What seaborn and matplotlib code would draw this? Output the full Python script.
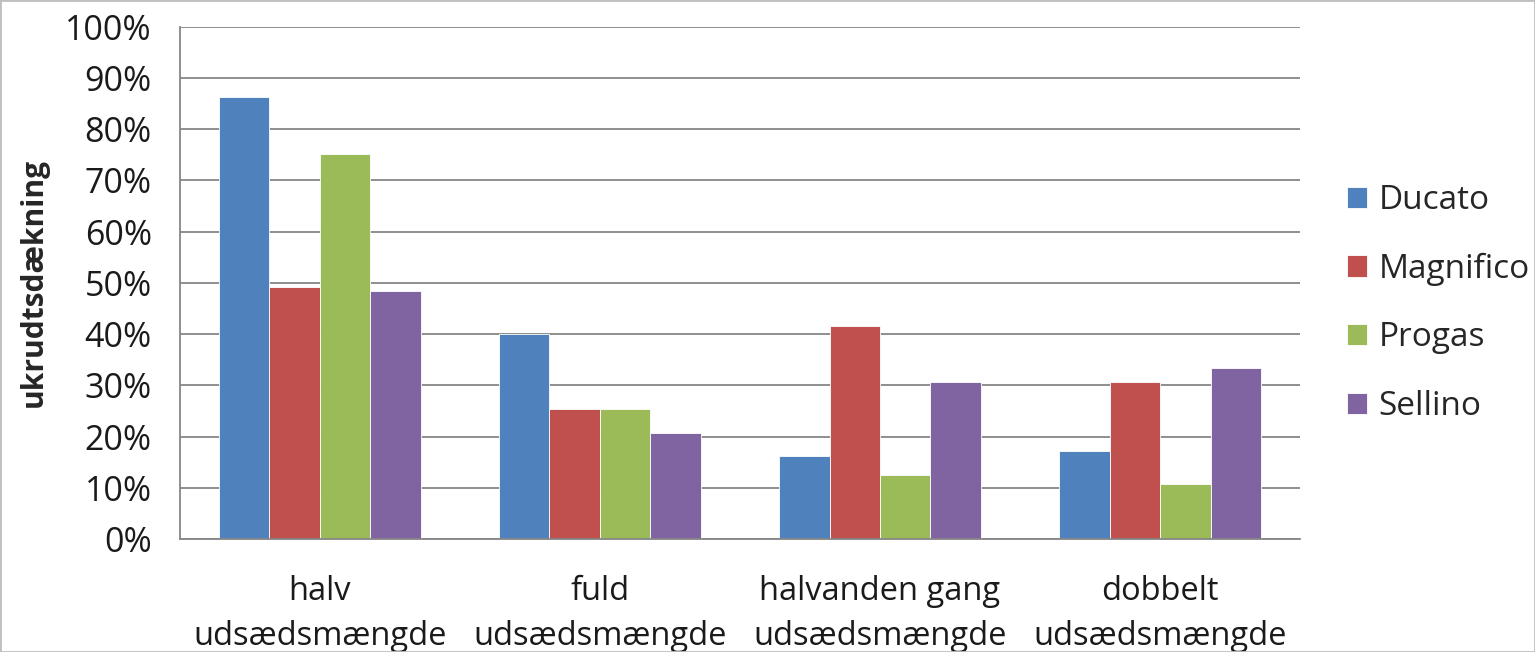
#Grafik over ukrudtsdaekning for fire sorter ved forskellige udsaedsmaengder
import pandas as pd
import matplotlib.pyplot as plt
import seaborn as sns
import numpy as np
from matplotlib.ticker import PercentFormatter, FixedLocator

kategorier = ["halv\nudsædsmængde", "fuld\nudsædsmængde",
              "halvanden gang\nudsædsmængde", "dobbelt\nudsædsmængde"]
sorter = ["Ducato", "Magnifico", "Progas", "Sellino"]
ducato = [86.3, 40.0, 16.2, 17.2]
magnifico = [49.2, 25.4, 41.6, 30.7]
progas = [75.1, 25.4, 12.5, 10.7]
sellino = [48.4, 20.7, 30.7, 33.4]
farver = ["#4F81BD", "#C0504D", "#9BBB59", "#8064A2"]

rows = []
for sort, vals in zip(sorter, [ducato, magnifico, progas, sellino]):
    for kat, v in zip(kategorier, vals):
        rows.append({"kategori": kat, "sort": sort, "andel": v})
data = pd.DataFrame(rows)

sns.set_style("white")
plt.rcParams["font.family"] = ["Open Sans", "DejaVu Sans"]

fig = plt.figure(figsize=(15.35, 6.52), dpi=100)
ax = fig.add_axes([0.117, 0.173, 0.73, 0.786])

sns.barplot(data=data, x="kategori", y="andel", hue="sort", palette=farver,
            width=0.72, ax=ax, edgecolor="white", linewidth=0.6, saturation=1)

ax.set_ylim(0, 100)
ax.set_xlim(-0.5, 3.5)
ax.set_yticks(np.arange(0, 101, 10))
ax.yaxis.set_major_formatter(PercentFormatter(decimals=0))
ax.grid(axis="y", color="#868686", linewidth=1.3)
ax.set_axisbelow(True)

for s in ["top", "right"]:
    ax.spines[s].set_visible(False)
for s in ["left", "bottom"]:
    ax.spines[s].set_color("#868686")
    ax.spines[s].set_linewidth(1.3)

ax.tick_params(axis="x", which="major", length=0, labelsize=23.5, pad=26, labelcolor="#1a1a1a")
for lbl in ax.get_xticklabels():
    lbl.set_linespacing(1.45)
ax.xaxis.set_minor_locator(FixedLocator([-0.5, 0.5, 1.5, 2.5, 3.5]))
ax.tick_params(axis="x", which="minor", length=10, width=1.3, color="#868686")
ax.tick_params(axis="y", length=6, width=1.3, color="#868686", labelsize=24.5, pad=14,
               labelcolor="#1a1a1a")

ax.set_xlabel("")
ax.set_ylabel("ukrudtsdækning", fontsize=21.5, fontweight="bold", labelpad=12)

ax.legend(title=None, loc="center left", bbox_to_anchor=(1.03, 0.46), frameon=False,
          fontsize=24, handlelength=0.6, handleheight=0.6, handletextpad=0.35, labelspacing=1.07,
          borderaxespad=0)

fig.patches.append(plt.Rectangle((0, 0), 1, 1, transform=fig.transFigure,
                                 fill=False, edgecolor="#bfbfbf", linewidth=2))

plt.savefig("out.png", dpi=100)
